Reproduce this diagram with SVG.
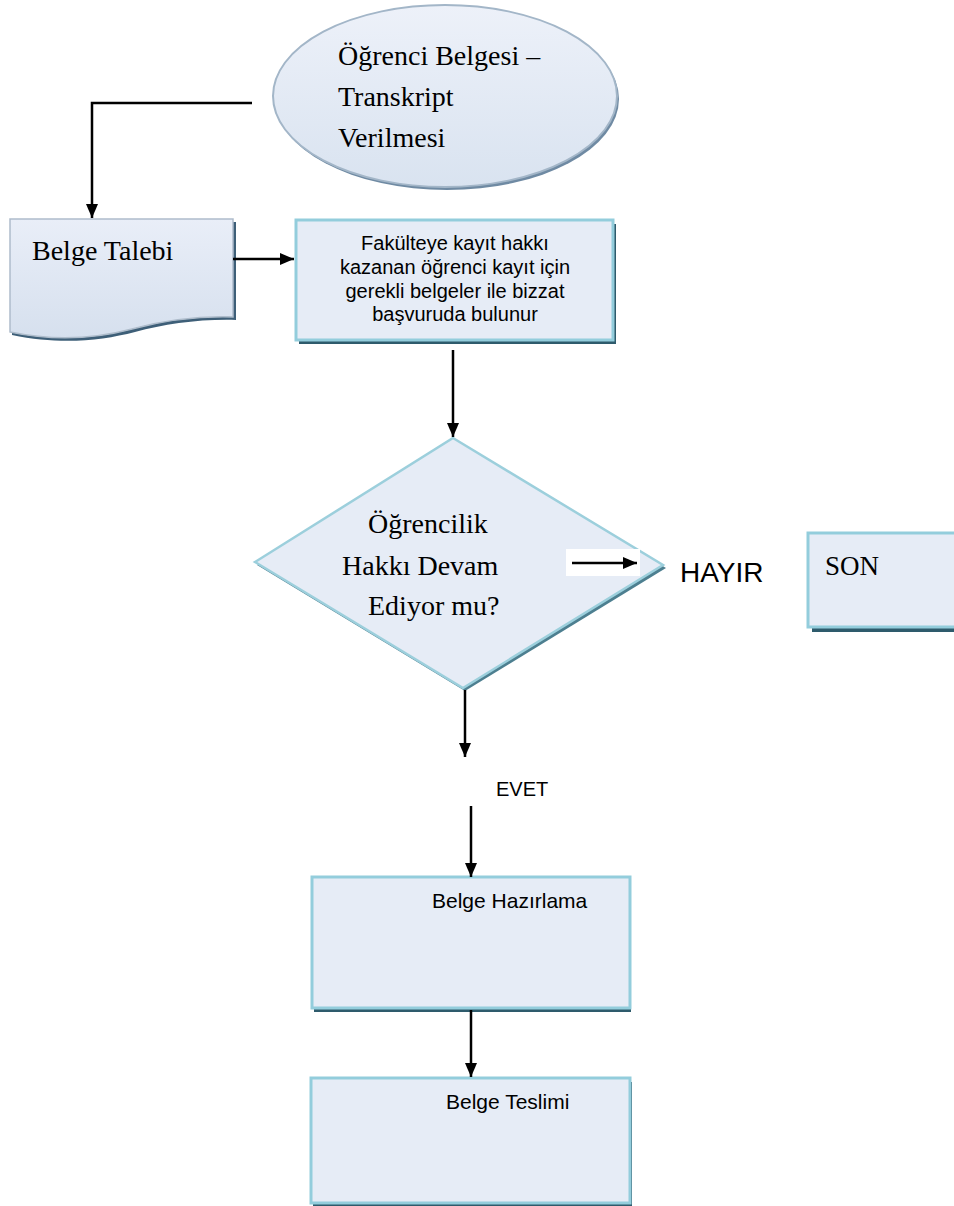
<svg xmlns="http://www.w3.org/2000/svg" width="954" height="1206" viewBox="0 0 954 1206">
  <defs>
    <style>
      .serif { font-family: "Liberation Serif", "Times New Roman", serif; fill: #000; }
      .sans { font-family: "Liberation Sans", Arial, sans-serif; fill: #000; }
      .box { fill: #e6ecf6; stroke: #93cddc; stroke-width: 3; }
      .shadow { fill: #2e5b6c; }
      .conn { fill: none; stroke: #000; stroke-width: 2.5; }
    </style>
    <linearGradient id="gEll" x1="0" y1="0" x2="0" y2="1">
      <stop offset="0" stop-color="#edf1f9"/>
      <stop offset="1" stop-color="#d9e3f0"/>
    </linearGradient>
    <linearGradient id="gDoc" x1="0" y1="0" x2="0" y2="1">
      <stop offset="0" stop-color="#e9eef8"/>
      <stop offset="1" stop-color="#d6e0ee"/>
    </linearGradient>
    <marker id="arrow" viewBox="0 0 14 12" refX="14" refY="6" markerWidth="14" markerHeight="12" markerUnits="userSpaceOnUse" orient="auto">
      <path d="M0,0 L14,6 L0,12 z" fill="#000"/>
    </marker>
  </defs>
  <rect x="0" y="0" width="954" height="1206" fill="#fff"/>

  <g id="node-start">
    <ellipse cx="447" cy="99" rx="172" ry="91" fill="#6f8aa3"/>
    <ellipse cx="445" cy="96" rx="172" ry="91" fill="url(#gEll)" stroke="#a3b6c8" stroke-width="2"/>
    <text class="serif" font-size="28" x="338" y="65">Öğrenci Belgesi –</text>
    <text class="serif" font-size="28" x="338" y="106">Transkript</text>
    <text class="serif" font-size="28" x="338" y="147">Verilmesi</text>
  </g>

  <g id="node-belge-talebi">
    <path d="M12,222 H236 V320 C200,319 165,324 135,332 C100,341 60,345 12,335 Z" fill="#3e5f78"/>
    <path d="M10,219 H233 V317 C200,316 162,321 132,329 C98,338 58,342 10,332 Z" fill="url(#gDoc)" stroke="#aebccb" stroke-width="1.5"/>
    <text class="serif" font-size="28" x="32" y="260">Belge Talebi</text>
  </g>

  <g id="node-basvuru">
    <rect class="shadow" x="299" y="224" width="317" height="120"/>
    <rect class="box" x="296" y="220" width="317" height="120"/>
    <text class="sans" font-size="20" text-anchor="middle" x="455" y="250">Fakülteye kayıt hakkı</text>
    <text class="sans" font-size="20" text-anchor="middle" x="455" y="274">kazanan öğrenci kayıt için</text>
    <text class="sans" font-size="20" text-anchor="middle" x="455" y="298">gerekli belgeler ile bizzat</text>
    <text class="sans" font-size="20" text-anchor="middle" x="455" y="321">başvuruda bulunur</text>
  </g>

  <g id="node-karar">
    <polygon points="455,441 666,568 465,691 257,565" fill="#4d7f90"/>
    <polygon points="453,438 663,565 463,688 255,562" fill="#e6ecf6" stroke="#9ccfdc" stroke-width="2.5"/>
    <text class="serif" font-size="28" x="368" y="533">Öğrencilik</text>
    <text class="serif" font-size="28" x="342" y="575">Hakkı Devam</text>
    <text class="serif" font-size="28" x="368" y="615">Ediyor mu?</text>
    <rect x="566" y="549" width="74" height="27" fill="#fff"/>
  </g>

  <g id="label-hayir">
    <text class="sans" font-size="28" x="680" y="582">HAYIR</text>
  </g>

  <g id="node-son">
    <rect class="shadow" x="812" y="537" width="150" height="95"/>
    <rect class="box" x="808" y="533" width="152" height="94"/>
    <text class="serif" font-size="27" x="825" y="575">SON</text>
  </g>

  <g id="label-evet">
    <text class="sans" font-size="20" x="496" y="796">EVET</text>
  </g>

  <g id="node-hazirlama">
    <rect class="shadow" x="314" y="881" width="317" height="131"/>
    <rect class="box" x="312" y="877" width="318" height="131"/>
    <text class="sans" font-size="21" x="432" y="908">Belge Hazırlama</text>
  </g>

  <g id="node-teslimi">
    <rect class="shadow" x="313" y="1082" width="319" height="124"/>
    <rect class="box" x="311" y="1078" width="319" height="125"/>
    <text class="sans" font-size="21" x="446" y="1109">Belge Teslimi</text>
  </g>

  <g id="connectors">
    <path class="conn" d="M252,103 H92 V218" marker-end="url(#arrow)"/>
    <path class="conn" d="M233,259 H294" marker-end="url(#arrow)"/>
    <path class="conn" d="M453,350 V437" marker-end="url(#arrow)"/>
    <path class="conn" d="M572,563 H637" marker-end="url(#arrow)"/>
    <path class="conn" d="M465,690 V757" marker-end="url(#arrow)"/>
    <path class="conn" d="M471,806 V877" marker-end="url(#arrow)"/>
    <path class="conn" d="M471,1010 V1077" marker-end="url(#arrow)"/>
  </g>
</svg>
